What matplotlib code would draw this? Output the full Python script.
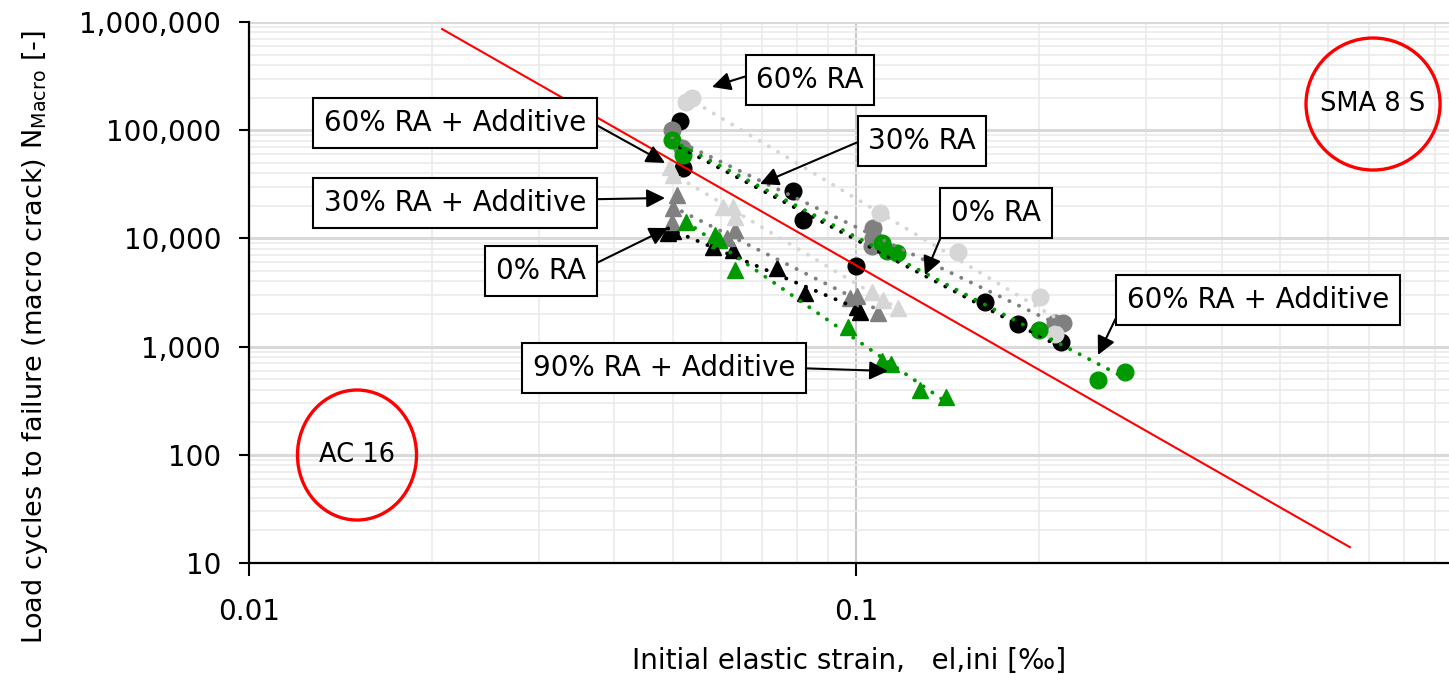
import numpy as np
import matplotlib.pyplot as plt
from matplotlib.patches import Ellipse
from matplotlib.ticker import FixedLocator, LogLocator, NullFormatter

plt.rcParams['font.family'] = ['DejaVu Sans']

# SMA 8 S (circles)
sma_0_x = [0.0513, 0.0519, 0.0787, 0.0818, 0.100, 0.163, 0.185, 0.218]
sma_0_y = [121600, 44800, 27400, 14800, 5560, 2580, 1620, 1100]
sma_30_x = [0.0498, 0.0517, 0.1066, 0.1066, 0.1062, 0.2127, 0.219]
sma_30_y = [100400, 68400, 12500, 10100, 8500, 1650, 1650]
sma_60_x = [0.0525, 0.0537, 0.1095, 0.1472, 0.201, 0.2127]
sma_60_y = [182300, 198500, 17200, 7490, 2870, 1310]
sma_60add_x = [0.0498, 0.0519, 0.1104, 0.1125, 0.1168, 0.2002, 0.2505, 0.2774]
sma_60add_y = [81200, 59000, 9060, 7650, 7330, 1420, 490, 580]

# AC 16 (triangles)
ac_0_x = [0.0490, 0.0499, 0.0581, 0.0627, 0.0741, 0.0824, 0.1004, 0.1015]
ac_0_y = [11200, 11700, 8330, 7810, 5330, 3130, 2320, 2090]
ac_30add_x = [0.0507, 0.0499, 0.0498, 0.0632, 0.0613, 0.0978, 0.1004, 0.1086]
ac_30add_y = [25200, 19100, 14200, 12000, 10100, 2810, 2940, 2050]
ac_60add_x = [0.0494, 0.0499, 0.0604, 0.0627, 0.0632, 0.1062, 0.1108, 0.1173]
ac_60add_y = [45700, 38600, 19500, 19500, 15800, 3200, 2700, 2270]
ac_90add_x = [0.0525, 0.0586, 0.0595, 0.0632, 0.0970, 0.1104, 0.1142, 0.1275, 0.1407]
ac_90add_y = [14200, 10750, 9670, 5100, 1520, 736, 690, 397, 342]

# reference line
ref_x = [0.0208, 0.651]
ref_y = [861000, 14]

black = '#000000'
gray = '#808080'
lgray = '#d6d6d6'
green = '#009a00'

series = [
    (sma_0_x, sma_0_y, black, 'o'),
    (sma_30_x, sma_30_y, gray, 'o'),
    (sma_60_x, sma_60_y, lgray, 'o'),
    (sma_60add_x, sma_60add_y, green, 'o'),
    (ac_0_x, ac_0_y, black, '^'),
    (ac_30add_x, ac_30add_y, gray, '^'),
    (ac_60add_x, ac_60add_y, lgray, '^'),
    (ac_90add_x, ac_90add_y, green, '^'),
]

fig = plt.figure(figsize=(14.49, 6.75), dpi=100)
ax = fig.add_axes([249 / 1449, 112 / 675, 1200 / 1449, 541 / 675])
ax.set_xscale('log')
ax.set_yscale('log')
ax.set_xlim(0.01, 0.948)
ax.set_ylim(10, 1e6)

# grid
ax.xaxis.set_minor_locator(LogLocator(base=10, subs=np.arange(2, 10)))
ax.yaxis.set_minor_locator(LogLocator(base=10, subs=np.arange(2, 10)))
ax.xaxis.set_minor_formatter(NullFormatter())
ax.yaxis.set_minor_formatter(NullFormatter())
ax.grid(True, which='minor', color='#ebebeb', lw=1.2, zorder=0)
ax.grid(True, which='major', axis='y', color='#d9d9d9', lw=2.2, zorder=0)
ax.grid(True, which='major', axis='x', color='#c8c8c8', lw=1.5, zorder=0)
ax.tick_params(which='minor', length=0)

# data points
for x, y, c, m in series:
    ax.plot(x, y, linestyle='none', marker=m, color=c, markersize=12, zorder=3)

# power trend lines
for x, y, c, m in series:
    b, a = np.polyfit(np.log10(x), np.log10(y), 1)
    xs = np.array([min(x), max(x)])
    ys = 10 ** (a + b * np.log10(xs))
    ax.plot(xs, ys, color=c, lw=2.8, linestyle=(0, (0.05, 2.7)),
            dash_capstyle='round', zorder=4)

ax.plot(ref_x, ref_y, color='#ff0000', lw=1.5, zorder=5)

# axes styling
for s in ['top', 'right']:
    ax.spines[s].set_visible(False)
for s in ['left', 'bottom']:
    ax.spines[s].set_linewidth(1.6)
ax.xaxis.set_major_locator(FixedLocator([0.01, 0.1]))
ax.set_xticklabels(['0.01', '0.1'])
yt = [10, 100, 1000, 10000, 100000, 1000000]
ax.yaxis.set_major_locator(FixedLocator(yt))
ax.set_yticklabels([f'{v:,}' for v in yt])
ax.tick_params(axis='y', which='major', length=7, width=1.5, pad=13, labelsize=20)
ax.tick_params(axis='x', which='major', length=9, width=1.5, pad=16, labelsize=20)

ax.set_xlabel('Initial elastic strain,   el,ini [\u2030]', fontsize=20, labelpad=15)
ax.set_ylabel(r'Load cycles to failure (macro crack) N$_\mathregular{Macro}$ [-]',
              fontsize=19.5)
ax.yaxis.set_label_coords(-0.166, 0.418)

# annotations (axes fraction)
labels = ['60% RA', '60% RA + Additive', '30% RA', '30% RA + Additive',
          '0% RA', '0% RA', '60% RA + Additive', '90% RA + Additive']
text_pos = [(0.4675, 0.8928), (0.1717, 0.8133), (0.5608, 0.7800), (0.1717, 0.6654),
            (0.6225, 0.6470), (0.2433, 0.5397), (0.8408, 0.4861), (0.3458, 0.3604)]
tip_pos = [(0.3858, 0.8799), (0.3467, 0.7394), (0.4258, 0.7006), (0.3467, 0.6747),
           (0.5633, 0.5323), (0.3492, 0.6192), (0.7075, 0.3845), (0.5325, 0.3549)]
rel_pos = [(0, 0.75), (1, 0.63), (0, 0.62), (1, 0.63),
           (0, 0.5), (1, 0.6), (0, 0.66), (1, 0.5)]
for lab, tp, tip, rp in zip(labels, text_pos, tip_pos, rel_pos):
    ax.annotate(lab, xy=tip, xytext=tp, xycoords='axes fraction',
                textcoords='axes fraction', ha='center', va='center', fontsize=20,
                bbox=dict(boxstyle='square,pad=0.38', fc='white', ec='black', lw=1.5),
                arrowprops=dict(arrowstyle='-|>', color='black', lw=1.5,
                                mutation_scale=28, shrinkA=0, shrinkB=0,
                                relpos=rp),
                zorder=6)

# group ellipses
ax.add_patch(Ellipse((0.9367, 0.8484), 0.1117, 0.244, transform=ax.transAxes,
                     fill=False, ec='#ff0000', lw=2.4, zorder=6))
ax.text(0.9367, 0.8484, 'SMA 8 S', transform=ax.transAxes, ha='center', va='center',
        fontsize=18.5, zorder=7)
ax.add_patch(Ellipse((0.09, 0.1996), 0.0992, 0.2403, transform=ax.transAxes,
                     fill=False, ec='#ff0000', lw=2.4, zorder=6))
ax.text(0.09, 0.1996, 'AC 16', transform=ax.transAxes, ha='center', va='center',
        fontsize=18.5, zorder=7)

fig.savefig('out.png', dpi=100)
